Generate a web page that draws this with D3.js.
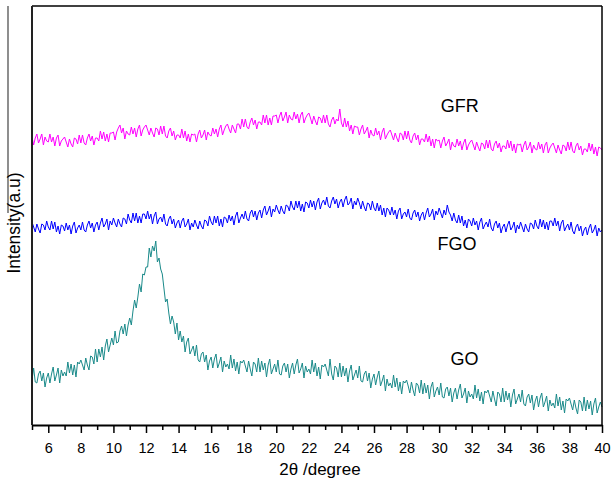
<!DOCTYPE html>
<html>
<head>
<meta charset="utf-8">
<script src="https://cdn.jsdelivr.net/npm/d3@7"></script>
<style>
  body { margin: 0; background: #fff; }
  text { font-family: Arial, "Liberation Sans", sans-serif; }
</style>
</head>
<body>
<script>
const width = 613;
const height = 483;

// 2theta grid: 5.0 .. 40.0 in 0.1 steps
const thetaStart = 5;
const thetaStep = 0.1;

const majorTicks = [6, 8, 10, 12, 14, 16, 18, 20, 22, 24, 26, 28, 30, 32, 34, 36, 38, 40];
const minorTicks = [5, 7, 9, 11, 13, 15, 17, 19, 21, 23, 25, 27, 29, 31, 33, 35, 37, 39];

// intensities (a.u., offset per curve)
const gfr = [
  288,280,287,291,282,286,291,280,288,284, 283,291,283,288,279,287,290,279,284,286,
  288,283,278,286,281,278,287,286,281,290, 282,290,282,280,287,291,284,289,280,287,
  287,284,294,286,293,284,291,283,292,292, 293,285,293,297,300,292,297,286,294,291,
  290,298,291,297,288,296,300,289,295,298, 300,295,290,297,292,288,297,296,290,299,
  291,299,289,287,294,297,289,294,285,290, 290,287,296,287,294,284,291,283,291,290,
  291,283,291,295,287,290,295,285,293,290, 289,297,291,296,288,296,300,290,295,299,
  301,296,292,300,296,292,301,301,296,306, 298,306,298,296,303,307,300,305,296,303,
  303,300,310,302,310,300,307,300,309,309, 310,302,309,313,304,308,313,302,310,306,
  305,313,306,311,302,310,313,302,307,310, 312,307,301,309,304,300,308,307,302,310,
  302,310,301,298,305,308,301,306,304,316, 302,298,307,298,304,294,300,291,299,298,
  298,290,296,300,291,294,298,287,295,290, 289,297,290,294,285,293,297,286,290,293,
  295,290,285,292,287,283,292,291,285,294, 286,294,285,282,289,292,285,290,280,286,
  286,283,291,283,289,279,286,277,286,284, 285,277,284,288,279,282,286,275,283,279,
  278,286,279,284,275,282,286,275,280,283, 285,280,275,283,278,274,282,281,276,285,
  277,285,276,274,281,284,277,282,273,279, 279,276,285,277,284,274,281,272,281,280,
  281,273,280,284,275,278,283,272,280,276, 275,283,276,281,272,280,283,272,277,280,
  282,277,272,280,275,271,280,279,274,283, 275,283,274,272,279,282,275,279,270,276,
  276,273,282,274,281,271,278,269,278,277, 275
];

const fgo = [
  203,198,193,201,196,192,201,200,195,204, 198,195,204,196,203,193,199,191,200,199,
  194,202,195,200,191,199,203,192,197,200, 195,203,195,193,200,204,197,202,193,200,
  203,195,202,207,198,201,206,195,204,200, 207,202,198,206,201,198,207,206,201,211,
  205,202,212,204,212,202,209,202,211,211, 206,214,206,211,201,209,213,201,206,208,
  203,211,201,199,206,209,201,206,197,202, 205,197,204,207,198,201,206,195,202,198,
  205,200,196,204,199,196,205,204,199,209, 203,200,209,202,209,199,206,198,208,207,
  202,210,204,209,200,209,213,202,207,211, 206,214,206,204,212,215,208,214,205,212,
  215,207,215,219,210,214,219,208,216,213, 220,215,211,219,214,211,220,219,214,224,
  218,215,224,217,224,214,221,213,223,222, 217,225,218,224,215,223,227,216,222,225,
  220,228,219,217,224,228,221,226,217,223, 226,218,225,229,220,222,227,216,224,220,
  227,222,216,224,218,214,222,221,215,224, 217,214,222,214,220,210,217,208,217,215,
  210,218,210,215,206,214,217,206,211,213, 208,216,207,205,212,215,208,213,204,210,
  213,205,212,217,208,211,216,205,214,210, 217,212,207,215,210,220,213,210,204,212,
  205,202,210,202,209,199,205,197,206,204, 199,207,200,204,195,203,207,196,200,203,
  198,206,197,194,201,204,197,202,192,198, 201,193,200,204,195,198,203,192,200,196,
  203,198,193,201,196,193,202,201,196,205, 199,196,206,198,205,196,203,195,204,204,
  199,207,199,204,194,202,205,194,198,201, 195,203,194,191,198,201,194,199,189,195,
  198,190,197,201,192,195,200,189,197,193, 195
];

const go = [
  45,57,43,42,51,54,44,52,38,47, 52,42,51,58,44,50,57,42,55,49,
  53,49,63,52,61,50,60,48,63,61, 65,60,55,67,60,55,69,68,61,76,
  63,76,68,78,65,79,86,73,80,87, 80,94,82,83,94,99,91,101,89,100,
  107,100,114,125,117,128,141,133,151,150, 158,158,177,168,179,174,184,163,167,156,
  151,137,123,126,112,101,109,103,91,102, 85,94,83,89,73,83,87,71,75,79,
  69,80,65,63,71,73,63,70,55,64, 68,57,66,71,57,62,68,53,64,58,
  61,56,70,57,66,54,63,51,64,62, 65,59,53,64,56,49,63,61,53,67,
  53,64,55,62,48,60,66,51,56,61, 53,65,51,50,59,62,53,61,47,56,
  62,51,60,66,52,56,62,47,59,53, 56,51,65,53,62,49,58,46,60,58,
  61,55,49,66,51,45,59,57,48,62, 48,59,49,57,43,54,60,45,50,55,
  47,59,44,43,51,54,44,52,37,46, 51,40,48,54,39,44,50,34,46,39,
  42,37,50,38,47,34,43,31,44,42, 45,39,32,43,35,29,42,40,32,45,
  31,42,32,40,26,38,43,28,34,38, 30,42,28,27,36,38,29,37,23,32,
  37,26,35,41,27,31,37,22,34,28, 31,26,40,27,36,24,33,21,34,32,
  35,29,23,34,26,19,33,31,23,37, 23,34,25,32,18,30,36,21,26,31,
  23,35,21,19,28,31,22,30,15,24, 29,18,27,32,18,23,29,14,25,19,
  22,17,31,19,28,15,24,12,26,24, 27,21,15,25,17,11,25,23,14,28,
  14,25,16,24,10,21,27,12,18,23, 18
];

const seriesNames = ["GFR", "FGO", "GO"];
const seriesColors = ["#ff00ff", "#0000ff", "#1a8a8a"];
// label anchor points (2theta, intensity)
const labelTheta = [30.1, 29.9, 30.7];
const labelValue = [313, 175, 60];

const margin = { left: 32, right: 11, top: 6, bottom: 58 };
const x = d3.scaleLinear().domain([5, 40]).range([margin.left, width - margin.right]);
const y = d3.scaleLinear().domain([0, 419]).range([height - margin.bottom, margin.top]);

const svg = d3.select("body").append("svg")
    .attr("width", width)
    .attr("height", height);

const line = d3.line()
    .x((d, i) => x(thetaStart + i * thetaStep))
    .y(d => y(d));

[gfr, fgo, go].forEach((s, k) => {
    svg.append("path")
        .datum(s)
        .attr("fill", "none")
        .attr("stroke", seriesColors[k])
        .attr("stroke-width", 1)
        .attr("d", line);
});

// frame
const x0 = x(5), x1 = x(40), y0 = y(0), y1 = y(419);
svg.append("line").attr("x1", x0).attr("x2", x1).attr("y1", y1).attr("y2", y1)
    .attr("stroke", "#000").attr("stroke-width", 1.5);
svg.append("line").attr("x1", x1).attr("x2", x1).attr("y1", y1).attr("y2", y0)
    .attr("stroke", "#000").attr("stroke-width", 1.5);
svg.append("line").attr("x1", x0).attr("x2", x0).attr("y1", y1).attr("y2", y0)
    .attr("stroke", "#222").attr("stroke-width", 2);

// stray line left of the y label, as in the source figure
svg.append("line").attr("x1", 8).attr("x2", 8).attr("y1", 6).attr("y2", 213)
    .attr("stroke", "#444").attr("stroke-width", 1.2);

const xAxis = svg.append("g")
    .attr("transform", `translate(0,${y0})`)
    .call(d3.axisBottom(x).tickValues(majorTicks).tickSize(8).tickSizeOuter(0).tickPadding(10));
xAxis.select(".domain").attr("stroke-width", 2);
xAxis.selectAll(".tick line").attr("stroke-width", 1.5);
xAxis.selectAll("text").attr("font-size", 14.5).attr("fill", "#000")
    .attr("font-family", "Arial, 'Liberation Sans', sans-serif");

const minorAxis = svg.append("g")
    .attr("transform", `translate(0,${y0})`)
    .call(d3.axisBottom(x).tickValues(minorTicks).tickSize(5).tickFormat(""));
minorAxis.select(".domain").remove();
minorAxis.selectAll(".tick line").attr("stroke-width", 1.5);

svg.append("text")
    .attr("x", 320)
    .attr("y", 475)
    .attr("text-anchor", "middle")
    .attr("font-size", 17)
    .text("2θ /degree");

svg.append("text")
    .attr("transform", "translate(20,223) rotate(-90)")
    .attr("text-anchor", "middle")
    .attr("font-size", 17.5)
    .text("Intensity(a.u)");

seriesNames.forEach((n, k) => {
    svg.append("text")
        .attr("x", x(labelTheta[k]))
        .attr("y", y(labelValue[k]))
        .attr("font-size", 18)
        .attr("fill", "#000")
        .text(n);
});
</script>
</body>
</html>
